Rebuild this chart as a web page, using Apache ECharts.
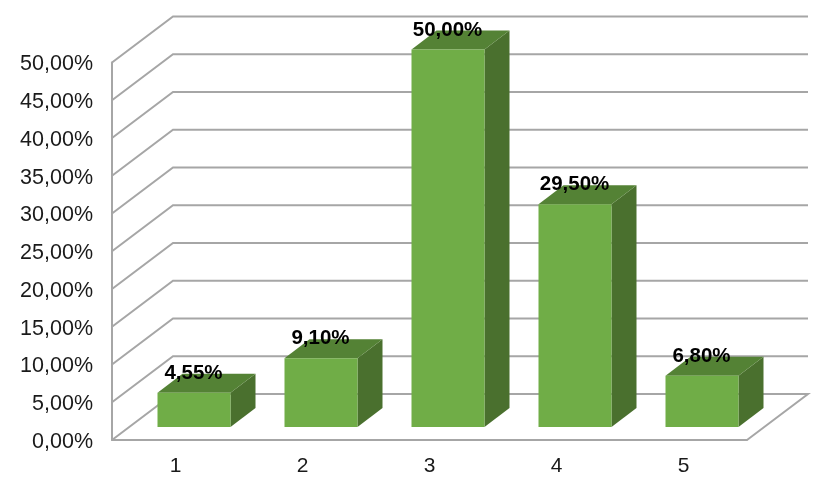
<!DOCTYPE html>
<html>
<head>
<meta charset="utf-8">
<style>
  html, body { margin: 0; padding: 0; background: #fff; }
  #chart { width: 827px; height: 481px; }
</style>
<script src="https://cdn.jsdelivr.net/npm/echarts@6/dist/echarts.min.js"></script>
</head>
<body>
<div id="chart"></div>
<script>
const categories = ['1', '2', '3', '4', '5'];
const values = [4.55, 9.10, 50.00, 29.50, 6.80];
const yTicks = [0, 5, 10, 15, 20, 25, 30, 35, 40, 45, 50];

// 3d look: how far the back wall and the bars are pushed
const wallDx = 61, wallDy = -46;
const barDx = 25, barDy = -19;
const barShiftX = 18.5, barShiftY = -13, barWidth = 73;
const lineColor = '#A6A6A6';

const fmt = function (v) {
    return v.toFixed(2).replace('.', ',') + '%';
};

const renderWall = function (params, api) {
    const v = api.value(1);
    const band = api.size([1, 0])[0];
    const left = api.coord([0, v]);
    const right = api.coord([categories.length - 1, v]);
    const x0 = left[0] - band / 2;
    const x1 = right[0] + band / 2;
    const y = left[1];
    const points = [[x0, y], [x0 + wallDx, y + wallDy], [x1 + wallDx, y + wallDy]];
    // the floor gets its right edge too
    if (v === 0) {
        points.push([x1, y]);
    }
    return {
        type: 'polyline',
        shape: { points: points },
        style: { fill: null, stroke: lineColor, lineWidth: 2 }
    };
};

const renderBar = function (params, api) {
    const top = api.coord([api.value(0), api.value(1)]);
    const base = api.coord([api.value(0), 0]);
    const x0 = top[0] + barShiftX - barWidth / 2;
    const x1 = x0 + barWidth;
    const y0 = top[1] + barShiftY;
    const y1 = base[1] + barShiftY;
    return {
        type: 'group',
        children: [
            {
                type: 'polygon',
                shape: { points: [[x1, y0], [x1 + barDx, y0 + barDy], [x1 + barDx, y1 + barDy], [x1, y1]] },
                style: { fill: '#4A702E' }
            },
            {
                type: 'polygon',
                shape: { points: [[x0, y0], [x0 + barDx, y0 + barDy], [x1 + barDx, y0 + barDy], [x1, y0]] },
                style: { fill: '#548235' }
            },
            {
                type: 'rect',
                shape: { x: x0, y: y0, width: barWidth, height: y1 - y0 },
                style: { fill: '#70AD47' }
            },
            {
                type: 'text',
                style: {
                    text: fmt(api.value(1)),
                    x: (x0 + x1) / 2 - 0.5,
                    y: y0 - 19.5,
                    align: 'center',
                    verticalAlign: 'middle',
                    fill: '#000',
                    font: 'bold 20.5px "Liberation Sans", Arial, sans-serif'
                }
            }
        ]
    };
};

const chart = echarts.init(document.getElementById('chart'));
chart.setOption({
    animation: false,
    grid: { left: 112, right: 80, top: 62.5, bottom: 41 },
    xAxis: {
        type: 'category',
        data: categories,
        axisLine: { lineStyle: { color: lineColor, width: 2 } },
        axisTick: { show: false },
        axisLabel: {
            color: '#1a1a1a',
            fontFamily: '"Liberation Sans", Arial, sans-serif',
            fontSize: 21,
            margin: 16
        }
    },
    yAxis: {
        type: 'value',
        min: 0,
        max: 50,
        interval: 5,
        splitLine: { show: false },
        axisLine: { show: true, lineStyle: { color: lineColor, width: 2 } },
        axisTick: { show: false },
        axisLabel: {
            color: '#1a1a1a',
            fontFamily: '"Liberation Sans", Arial, sans-serif',
            fontSize: 21.5,
            margin: 19,
            // nudges the text a little below the tick
            verticalAlign: 'top',
            lineHeight: 4,
            formatter: fmt
        }
    },
    series: [
        {
            type: 'custom',
            silent: true,
            clip: false,
            z: 1,
            renderItem: renderWall,
            data: yTicks.map(function (v) { return [0, v]; })
        },
        {
            type: 'custom',
            silent: true,
            clip: false,
            z: 3,
            renderItem: renderBar,
            data: values.map(function (v, i) { return [i, v]; })
        }
    ]
});
</script>
</body>
</html>
